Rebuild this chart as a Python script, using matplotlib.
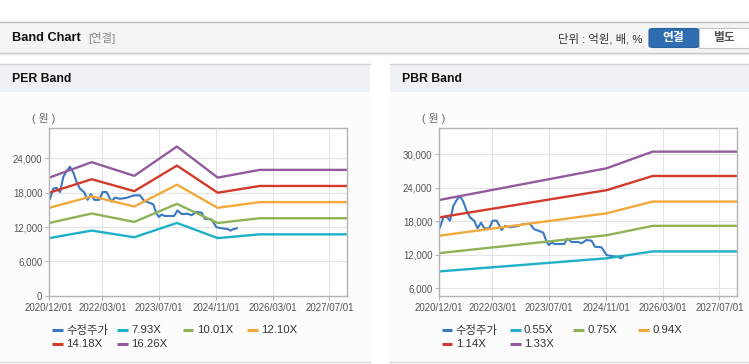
import matplotlib
matplotlib.use("Agg")
import matplotlib.pyplot as plt
import matplotlib.dates as mdates
from matplotlib.patches import Rectangle, FancyBboxPatch
from matplotlib.lines import Line2D
from matplotlib.ticker import FuncFormatter
import numpy as np

plt.rcParams['font.family'] = ['Liberation Sans', 'Noto Sans CJK KR', 'DejaVu Sans']

# ---- data ----
price_dates = ["2020-12-07", "2021-01-05", "2021-02-02", "2021-03-03", "2021-03-31", "2021-04-29",
               "2021-05-27", "2021-06-25", "2021-07-23", "2021-08-21", "2021-09-27", "2021-10-26",
               "2021-11-23", "2021-12-22", "2022-02-03", "2022-03-03", "2022-04-07", "2022-05-19",
               "2022-06-17", "2022-07-30", "2022-09-25", "2022-11-21", "2023-01-17", "2023-02-23",
               "2023-03-30", "2023-05-12", "2023-06-09", "2023-06-29", "2023-07-22", "2023-08-20",
               "2023-11-07", "2023-12-06", "2024-01-09", "2024-03-06", "2024-04-04", "2024-05-17",
               "2024-06-29", "2024-07-27", "2024-09-22", "2024-11-04", "2024-12-17", "2025-02-07",
               "2025-03-07", "2025-03-20", "2025-04-28"]
price = [16925, 18716, 18824, 18107, 20740, 21815, 22531, 21510, 19898, 18716, 18054, 16746,
         17750, 16746, 16746, 18107, 18107, 16441, 17158, 16925, 17100, 17500, 17550, 16567,
         16316, 15958, 14346, 13755, 14167, 13934, 13934, 14900, 14292, 14292, 14059, 14651,
         14525, 13450, 13343, 11964, 11785, 11660, 11373, 11550, 11790]
# the PBR chart's price line stops one point earlier than the PER one
pbr_price_n = len(price) - 1

per_dates = ["2020-12-01", "2021-11-30", "2022-11-30", "2023-12-01", "2024-11-15", "2025-11-10", "2027-12-01"]
per_labels = ["7.93X", "10.01X", "12.10X", "14.18X", "16.26X"]
per_793 = [10063, 11380, 10214, 12712, 10063, 10721, 10721]
per_1001 = [12703, 14364, 12893, 16046, 12703, 13534, 13534]
per_1210 = [15355, 17364, 15585, 19396, 15355, 16359, 16359]
per_1418 = [17994, 20348, 18264, 22731, 17994, 19171, 19171]
per_1626 = [20634, 23333, 20943, 26065, 20634, 21984, 21984]

pbr_dates = ["2020-12-01", "2024-11-05", "2025-12-05", "2027-12-01"]
pbr_labels = ["0.55X", "0.75X", "0.94X", "1.14X", "1.33X"]
pbr_055 = [9020, 11370, 12600, 12600]
pbr_075 = [12300, 15500, 17180, 17180]
pbr_094 = [15420, 19430, 21530, 21530]
pbr_114 = [18700, 23570, 26110, 26110]
pbr_133 = [21815, 27490, 30470, 30470]

x_ticks = ["2020-12-01", "2022-03-01", "2023-07-01", "2024-11-01", "2026-03-01", "2027-07-01"]
per_yticks = [0, 6000, 12000, 18000, 24000]
pbr_yticks = [6000, 12000, 18000, 24000, 30000]

price_color = '#3a78c3'
band_colors = ['#1fb0c8', '#8db356', '#f2a93b', '#d23a2b', '#935b9e']

W, H = 749, 364
fig = plt.figure(figsize=(W / 100, H / 100), dpi=100)


def fx(x):
    return x / W


def fy(y):
    return 1 - y / H


def rect(x0, y0, x1, y1, **kw):
    fig.patches.append(Rectangle((fx(x0), fy(y1)), fx(x1) - fx(x0), fy(y0) - fy(y1),
                                 transform=fig.transFigure, zorder=-2, **kw))


def hline(x0, x1, y, color, lw=1.0):
    fig.add_artist(Line2D([fx(x0), fx(x1)], [fy(y), fy(y)], color=color, lw=lw,
                          transform=fig.transFigure, zorder=-1))


# ---- top header bar ----
rect(0, 22, W, 53, facecolor='#f4f4f4', edgecolor='none')
hline(0, W, 22.3, '#bdbdbd')
hline(0, W, 53, '#c4c4c4')
hline(0, W, 54.2, '#e6e6e6')
fig.text(fx(11.5), fy(38.3), "Band Chart", fontsize=9.2, fontweight='bold', color='#111', va='center')
fig.text(fx(88), fy(38.3), "[연결]", fontsize=8.2, color='#8a8a8a', va='center')
fig.text(fx(642), fy(38.3), "단위 : 억원, 배, %", fontsize=8.2, color='#333', va='center', ha='right')
fig.patches.append(FancyBboxPatch((fx(649), fy(47.5)), fx(699.3) - fx(649), fy(28.5) - fy(47.5),
                                  boxstyle="round,pad=0,rounding_size=0.006",
                                  transform=fig.transFigure, facecolor='#2f6db3', edgecolor='#2a619f', lw=0.8))
fig.patches.append(Rectangle((fx(699.3), fy(47.5)), fx(748.5) - fx(699.3), fy(28.5) - fy(47.5),
                             transform=fig.transFigure, facecolor='white', edgecolor='#c5c5c5', lw=0.8))
fig.text(fx(673.5), fy(38.3), "연결", fontsize=8.5, fontweight='bold', color='white', va='center', ha='center')
fig.text(fx(723.5), fy(38.3), "별도", fontsize=8.5, fontweight='bold', color='#555', va='center', ha='center')


def panel(x0, x1, title):
    rect(x0, 64.3, x1, 92.3, facecolor='#eef1f6', edgecolor='none')
    rect(x0, 92.3, x1, 362, facecolor='#fcfcfc', edgecolor='none')
    hline(x0, x1, 64.3, '#d3d3d3')
    hline(x0, x1, 362, '#d8d8d8')
    fig.text(fx(x0 + 11.7), fy(79.3), title, fontsize=8.8, fontweight='bold', color='#111', va='center')


def make_axes(left, right, ylim, yticks):
    ax = fig.add_axes([fx(left), fy(295.7), fx(right) - fx(left), fy(128.3) - fy(295.7)])
    ax.set_zorder(5)
    ax.set_facecolor('white')
    ax.set_xlim(np.datetime64("2020-12-01"), np.datetime64("2027-12-01"))
    ax.set_ylim(*ylim)
    ax.set_xticks(np.array(x_ticks, dtype='datetime64[D]'))
    ax.xaxis.set_major_formatter(mdates.DateFormatter('%Y/%m/%d'))
    ax.set_yticks(yticks)
    ax.yaxis.set_major_formatter(FuncFormatter(lambda v, p: f"{int(v):,}"))
    ax.grid(True, color='#e4e4e4', lw=0.8)
    ax.set_axisbelow(True)
    for s in ax.spines.values():
        s.set_color('#b4b4b4')
        s.set_linewidth(1.0)
    ax.tick_params(axis='both', colors='#b4b4b4', labelcolor='#555555', labelsize=7.0,
                   length=3, width=0.8, pad=2)
    ax.text(-0.018, 0.06 + 1.0, "( 원 )", transform=ax.transAxes, fontsize=7.8, color='#666',
            ha='center', va='center')
    return ax


def draw_legend(labels, colors, xs):
    rows = [330.3, 343.7]
    for i, (lab, col) in enumerate(zip(labels, colors)):
        r, c = divmod(i, 4)
        x0, y = xs[c], rows[r]
        fig.add_artist(Line2D([fx(x0), fx(x0 + 10.5)], [fy(y), fy(y)], color=col, lw=2.2,
                              transform=fig.transFigure, solid_capstyle='butt'))
        fig.text(fx(x0 + 14), fy(y), lab, fontsize=8.2, color='#333', va='center')


# ---- PER panel ----
panel(0, 370, "PER Band")
ax1 = make_axes(49.3, 347.2, (0, 29250), per_yticks)
pd_ = np.array(price_dates, dtype='datetime64[D]')
ax1.plot(pd_, price, color=price_color, lw=1.5)
per_x = np.array(per_dates, dtype='datetime64[D]')
for vals, col in zip([per_793, per_1001, per_1210, per_1418, per_1626], band_colors):
    ax1.plot(per_x, vals, color=col, lw=1.7)
draw_legend(["수정주가"] + per_labels, [price_color] + band_colors, [52.3, 117.3, 182.7, 247.3])

# ---- PBR panel ----
panel(390, W, "PBR Band")
ax2 = make_axes(439.3, 737.3, (4675, 34650), pbr_yticks)
ax2.plot(pd_[:pbr_price_n], price[:pbr_price_n], color=price_color, lw=1.5)
pbr_x = np.array(pbr_dates, dtype='datetime64[D]')
for vals, col in zip([pbr_055, pbr_075, pbr_094, pbr_114, pbr_133], band_colors):
    ax2.plot(pbr_x, vals, color=col, lw=1.7)
draw_legend(["수정주가"] + pbr_labels, [price_color] + band_colors, [441.7, 510.0, 573.3, 638.3])

fig.savefig("out.png", dpi=100)
